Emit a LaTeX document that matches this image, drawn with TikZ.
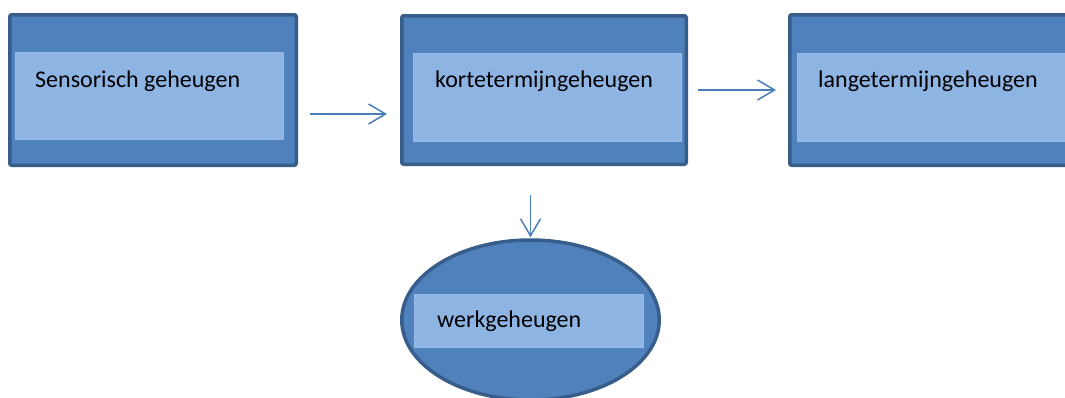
\documentclass[tikz,border=0pt]{standalone}
\usepackage{fontspec}
\setmainfont{Carlito}
\usetikzlibrary{arrows.meta,calc,shapes.geometric}
\definecolor{boxfill}{HTML}{4F81BD}
\definecolor{boxline}{HTML}{385D8A}
\definecolor{innerfill}{HTML}{8EB4E3}
\definecolor{arrowcol}{HTML}{4A7EBB}
\tikzset{
  outerbox/.style={draw=boxline, fill=boxfill, line width=3.5pt, rounded corners=2pt, inner sep=0pt},
  outerell/.style={ellipse, draw=boxline, fill=boxfill, line width=3.5pt, inner sep=0pt},
  innerbox/.style={fill=innerfill, draw=innerfill!90!white, line width=0.5pt, inner sep=0pt},
  label/.style={anchor=base west, inner sep=0pt, font=\fontsize{24pt}{28pt}\selectfont, text=black},
  arr/.style={draw=arrowcol, line width=1.5pt, -{Straight Barb[length=17pt, width=20pt, line width=1.5pt]}}
}
\begin{document}
\begin{tikzpicture}[x=1pt,y=-1pt]
\useasboundingbox (0,0) rectangle (1065,397);
\clip (0,0) rectangle (1065,397);
% top boxes
\node[outerbox, minimum width=286.5pt, minimum height=150.5pt] (s) at (153,90) {};
\node[innerbox, minimum width=268pt, minimum height=87pt] (si) at (149,95.5) {};
\node[label] (st) at (35,87) {Sensorisch geheugen};

\node[outerbox, minimum width=284.5pt, minimum height=148.5pt] (k) at (544,90) {};
\node[innerbox, minimum width=268pt, minimum height=88pt] (ki) at (547,97) {};
\node[label] (kt) at (435,87) {kortetermijngeheugen};

\node[outerbox, minimum width=288.5pt, minimum height=150.5pt] (l) at (934,90) {};
\node[innerbox, minimum width=280pt, minimum height=88pt] (li) at (937,97) {};
\node[label] (lt) at (818,87) {langetermijngeheugen};

% ellipse
\node[outerell, minimum width=257.5pt, minimum height=160pt] (w) at (530.5,320) {};
\node[innerbox, minimum width=229pt, minimum height=53pt] (wi) at (528.5,320.5) {};
\node[label] (wt) at (437,327) {werkgeheugen};

% arrows
\draw[arr, shorten <=12pt, shorten >=13pt] ([yshift=-24pt]s.east) -- ([yshift=-24pt]k.west);
\draw[arr, shorten <=10pt, shorten >=12pt] (k.east) -- (l.west);
\draw[arr, shorten <=29pt, shorten >=1pt] (k.south -| w.north) -- (w.north);
\end{tikzpicture}
\end{document}
